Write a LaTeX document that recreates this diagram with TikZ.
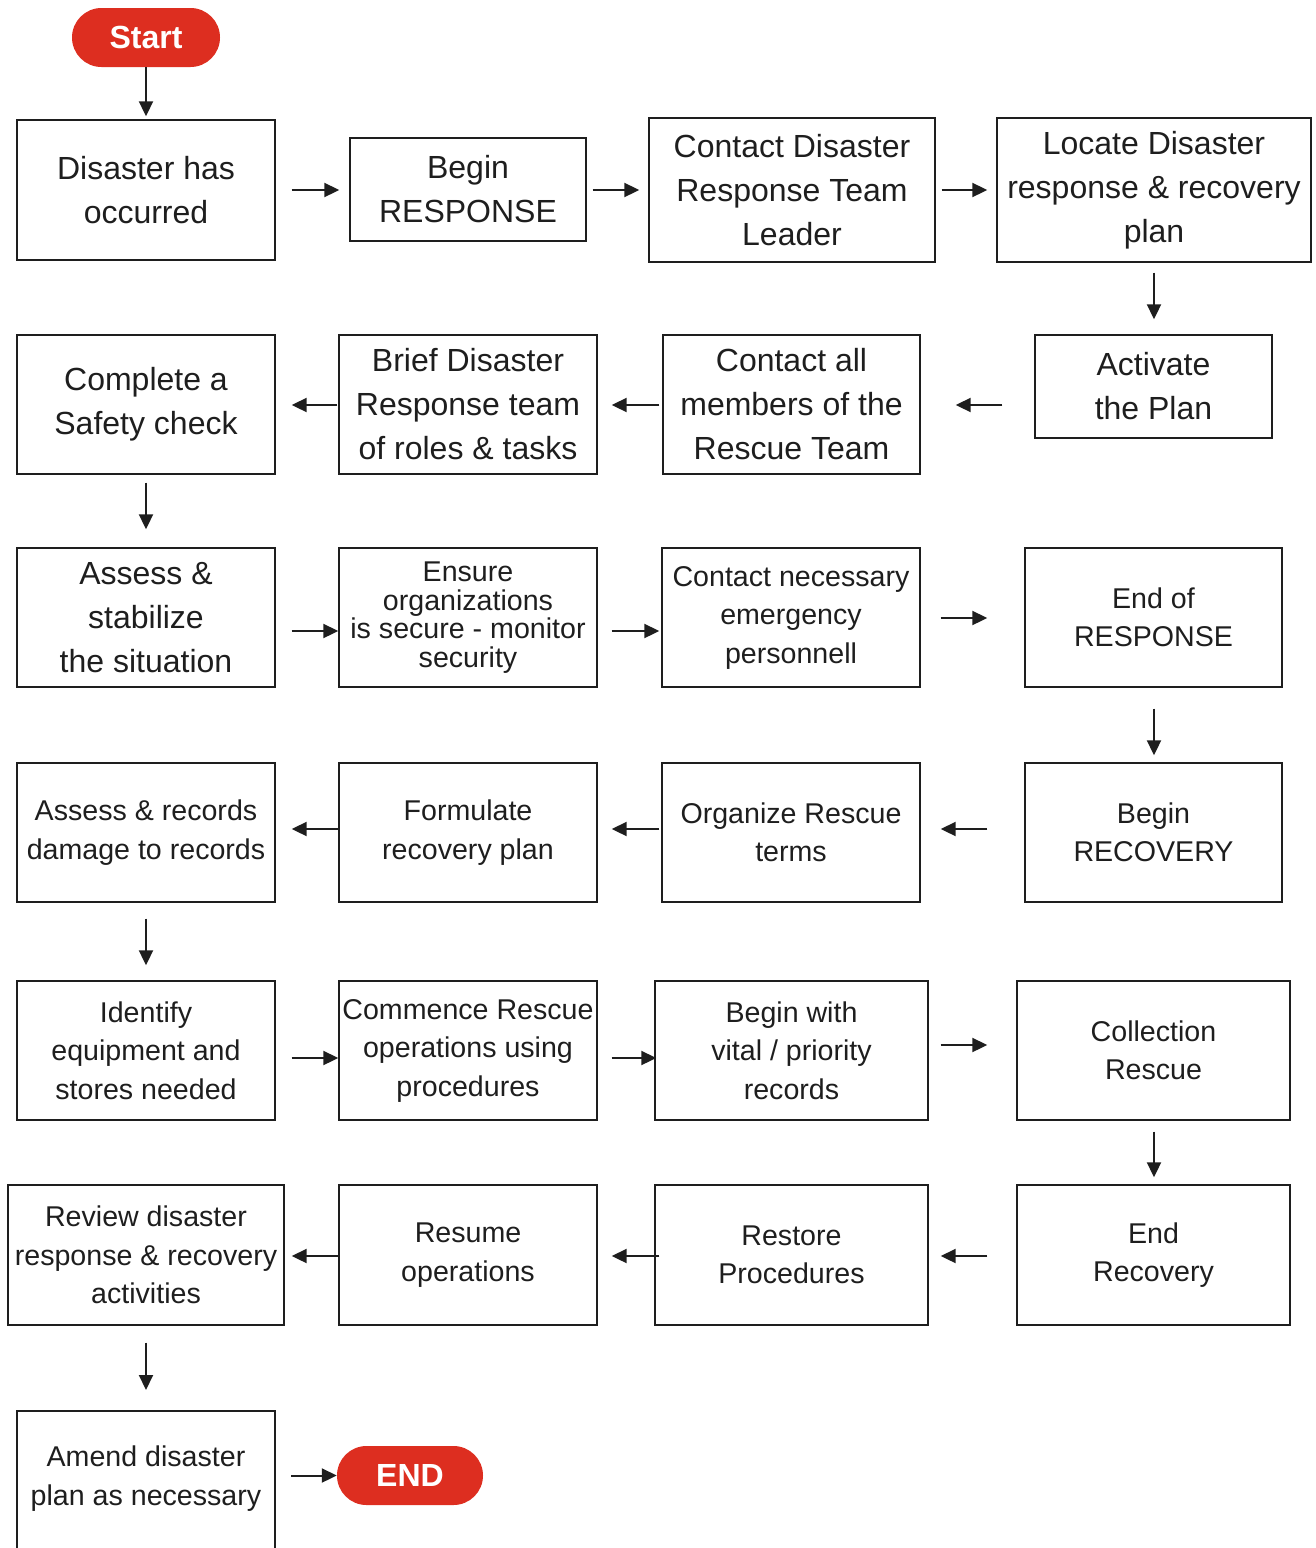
\documentclass[tikz,border=0pt]{standalone}
\usepackage{fontspec}
\setmainfont{Liberation Sans}
\usetikzlibrary{arrows.meta,calc}
\definecolor{termred}{RGB}{221,46,32}
\definecolor{ink}{RGB}{30,30,30}
\begin{document}
\begin{tikzpicture}[x=1pt,y=-1pt,
  box/.style 2 args={draw=ink, line width=1.4pt, align=center, text=ink,
    inner sep=0pt, minimum width=#1 pt, minimum height=#2 pt},
  big/.style={font=\fontsize{32}{44}\selectfont},
  small/.style={font=\fontsize{28.6}{38.5}\selectfont},
  term/.style={fill=termred, rounded corners=29.5pt, minimum width=148pt,
    minimum height=59pt, inner sep=0pt, text=white,
    font=\fontsize{32}{38}\selectfont\bfseries},
  arr/.style={draw=ink, line width=2pt,
    -{Triangle[length=15pt,width=14pt]}}]
\useasboundingbox (0,0) rectangle (1315,1548);
\clip (0,0) rectangle (1315,1548);

% terminals
\node[term] (start) at (146,37.5) {Start};
\node[term, minimum width=146pt] (stop) at (410,1475.5) {END};

% row 1
\node[box={258}{140}, big] (A1) at (146,190) {Disaster has\\occurred};
\node[box={236}{103}, big] (A2) at (468,189.5) {Begin\\RESPONSE};
\node[box={286}{144}, big] (A3) at (792,190) {Contact Disaster\\Response Team\\Leader};
\node[box={314}{144}, big] (A4) at (1154,190) {Locate Disaster\\response \& recovery\\plan};

% row 2
\node[box={237}{103}, big] (B4) at (1153.5,386.5) {Activate\\the Plan};
\node[box={257}{139}, big] (B3) at (791.5,404.5) {Contact all\\members of the\\Rescue Team};
\node[box={258}{139}, big] (B2) at (468,404.5) {Brief Disaster\\Response team\\of roles \& tasks};
\node[box={258}{139}, big] (B1) at (146,404.5) {Complete a\\Safety check};

% row 3
\node[box={258}{139}, big] (C1) at (146,617.5) {Assess \&\\stabilize\\the situation};
\node[box={258}{139}, font=\fontsize{28.6}{28.5}\selectfont] (C2) at (468,617.5)
  {Ensure\\organizations\\is secure - monitor\\security};
\node[box={258}{139}, small] (C3) at (791,617.5) {Contact necessary\\emergency\\personnell};
\node[box={257}{139}, small] (C4) at (1153.5,617.5) {End of\\RESPONSE};

% row 4
\node[box={257}{139}, small] (D4) at (1153.5,832.5) {Begin\\RECOVERY};
\node[box={258}{139}, small] (D3) at (791,832.5) {Organize Rescue\\terms};
\node[box={258}{139}, small] (D2) at (468,832.5) {Formulate\\recovery plan};
\node[box={258}{139}, small] (D1) at (146,832.5) {Assess \& records\\damage to records};

% row 5
\node[box={258}{139}, small] (E1) at (146,1050.5) {Identify\\equipment and\\stores needed};
\node[box={258}{139}, small] (E2) at (468,1050.5)
  {Commence Rescue\\operations using\\procedures};
\node[box={273}{139}, small] (E3) at (791.5,1050.5) {Begin with\\vital / priority\\records};
\node[box={273}{139}, small] (E4) at (1153.5,1050.5) {Collection\\Rescue};

% row 6
\node[box={273}{140}, small] (F4) at (1153.5,1255) {End\\Recovery};
\node[box={273}{140}, small] (F3) at (791.5,1255) {Restore\\Procedures};
\node[box={258}{140}, small] (F2) at (468,1255) {Resume\\operations};
\node[box={276}{140}, small] (F1) at (146,1255) {Review disaster\\response \& recovery\\activities};

% row 7: the last box runs past the lower edge of the page
\node[box={258}{135}, small, draw=none, outer sep=0pt] (G1) at (146,1478.5)
  {Amend disaster\\plan as necessary};
\draw[ink, line width=1.4pt] (G1.north west) rectangle ($(G1.south east)+(0,30)$);

% connectors
\draw[arr] (start.south) -- ($(A1.north)+(0,-3)$);
\draw[arr] ($(A1.east)+(16,0)$) -- ($(A2.west)+(-10,0.5)$);
\draw[arr] ($(A2.east)+(6,0.5)$) -- ($(A3.west)+(-9,0)$);
\draw[arr] ($(A3.east)+(6,0)$) -- ($(A4.west)+(-9,0)$);
\draw[arr] ($(A4.south)+(0,10)$) -- ($(B4.north)+(0.5,-15)$);
\draw[arr] ($(B4.west)+(-32,18.5)$) -- ($(B3.east)+(35,0.5)$);
\draw[arr] ($(B3.west)+(-3,0.5)$) -- ($(B2.east)+(14,0.5)$);
\draw[arr] ($(B2.west)+(-1,0.5)$) -- ($(B1.east)+(16,0.5)$);
\draw[arr] ($(B1.south)+(0,8)$) -- ($(C1.north)+(0,-18)$);
\draw[arr] ($(C1.east)+(16,13.5)$) -- ($(C2.west)+(0,13.5)$);
\draw[arr] ($(C2.east)+(14,13.5)$) -- ($(C3.west)+(-2,13.5)$);
\draw[arr] ($(C3.east)+(20,0.5)$) -- ($(C4.west)+(-37,0.5)$);
\draw[arr] ($(C4.south)+(0.5,21)$) -- ($(D4.north)+(0.5,-7)$);
\draw[arr] ($(D4.west)+(-37,-3.5)$) -- ($(D3.east)+(20,-3.5)$);
\draw[arr] ($(D3.west)+(-2,-3.5)$) -- ($(D2.east)+(14,-3.5)$);
\draw[arr] ($(D2.west)+(0,-3.5)$) -- ($(D1.east)+(16,-3.5)$);
\draw[arr] ($(D1.south)+(0,16)$) -- ($(E1.north)+(0,-15)$);
\draw[arr] ($(E1.east)+(16,7.5)$) -- ($(E2.west)+(0,7.5)$);
\draw[arr] ($(E2.east)+(14,7.5)$) -- ($(E3.west)+(2,7.5)$);
\draw[arr] ($(E3.east)+(12,-5.5)$) -- ($(E4.west)+(-29,-5.5)$);
\draw[arr] ($(E4.south)+(0.5,11)$) -- ($(F4.north)+(0.5,-7)$);
\draw[arr] ($(F4.west)+(-29,1)$) -- ($(F3.east)+(12,1)$);
\draw[arr] ($(F3.west)+(5,1)$) -- ($(F2.east)+(14,1)$);
\draw[arr] ($(F2.west)+(0,1)$) -- ($(F1.east)+(7,1)$);
\draw[arr] ($(F1.south)+(0,17)$) -- ($(G1.north)+(0,-21)$);
\draw[arr] ($(G1.east)+(16,-3)$) -- (stop.west);
\end{tikzpicture}
\end{document}
